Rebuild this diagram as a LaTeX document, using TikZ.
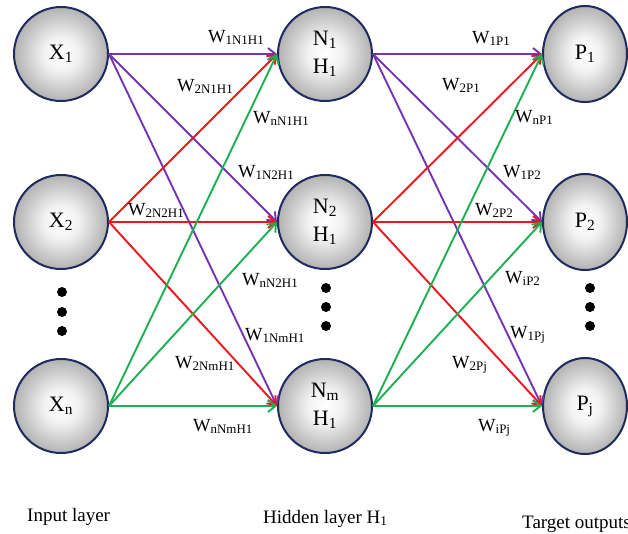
\documentclass[tikz,border=0pt]{standalone}
\usepackage{fontspec}
\setmainfont{Liberation Serif}
\usetikzlibrary{arrows.meta,shapes.geometric}

% soft grey ball: white centre fading to grey at the rim (25bp = rim)
\pgfdeclareradialshading{neuronball}{\pgfpointorigin}{%
  color(0bp)=(white); color(9bp)=(white!95!black);
  color(25bp)=(black!30); color(50bp)=(black!30)}

\definecolor{rimblue}{HTML}{1F2B5E}
\definecolor{wpurple}{HTML}{7434B4}
\definecolor{wred}{HTML}{F0141E}
\definecolor{wgreen}{HTML}{1DB052}

\newcommand\lowidx[1]{\textsubscript{#1}}

\begin{document}
\begin{tikzpicture}[x=1pt,y=-1pt,
  neuron/.style={circle, draw=rimblue, line width=2pt, shading=neuronball,
    minimum size=94pt, inner sep=0pt, align=center,
    font=\fontsize{22}{28}\selectfont},
  outneuron/.style={neuron, ellipse, minimum width=84pt, minimum height=96pt},
  wlab/.style={anchor=base west, inner sep=0pt, font=\fontsize{18.5}{20}\selectfont},
  layerlab/.style={anchor=base west, inner sep=0pt, font=\fontsize{19}{22}\selectfont},
  link/.style={line width=1.9pt, -{Straight Barb[length=7.5pt,width=12pt]}},
  ellipsisdot/.style={fill=black}]

\useasboundingbox (0,0) rectangle (628,533);

% input layer
\node[neuron] (X1) at (61,54)  {X\lowidx{1}};
\node[neuron] (X2) at (61,222) {X\lowidx{2}};
\node[neuron] (Xn) at (61,406) {X\lowidx{n}};

% hidden layer
\node[neuron] (N1) at (325,54)  {N\lowidx{1}\\H\lowidx{1}};
\node[neuron] (N2) at (325,222) {N\lowidx{2}\\H\lowidx{1}};
\node[neuron] (Nm) at (325,406) {N\lowidx{m}\\H\lowidx{1}};

% output layer
\node[outneuron] (P1) at (585,54)  {P\lowidx{1}};
\node[outneuron] (P2) at (585,222) {P\lowidx{2}};
\node[outneuron] (Pj) at (585,406) {P\lowidx{j}};

% vertical ellipses between the second and last node of each layer
\foreach \yy in {292,312,331} \fill[ellipsisdot] (62,\yy) circle (5);
\foreach \yy in {288,307,326} {
  \fill[ellipsisdot] (326,\yy) circle (5);
  \fill[ellipsisdot] (590,\yy) circle (5);
}

% input -> hidden weights
\foreach \t in {N1,N2,Nm} \draw[link, wpurple] (X1.east) -- (\t.west);
\foreach \t in {N1,N2,Nm} \draw[link, wred]    (X2.east) -- (\t.west);
\foreach \t in {N1,N2,Nm} \draw[link, wgreen]  (Xn.east) -- (\t.west);

% hidden -> output weights
\foreach \t in {P1,P2,Pj} \draw[link, wpurple] (N1.east) -- (\t.west);
\foreach \t in {P1,P2,Pj} \draw[link, wred]    (N2.east) -- (\t.west);
\foreach \t in {P1,P2,Pj} \draw[link, wgreen]  (Nm.east) -- (\t.west);

% weight labels, input side
\node[wlab] (w1) at (208,42)  {W\lowidx{1N1H1}};
\node[wlab] (w2) at (177,91)  {W\lowidx{2N1H1}};
\node[wlab] (w3) at (253,123) {W\lowidx{nN1H1}};
\node[wlab] (w4) at (238,177) {W\lowidx{1N2H1}};
\node[wlab] (w5) at (128,215) {W\lowidx{2N2H1}};
\node[wlab] (w6) at (242,285) {W\lowidx{nN2H1}};
\node[wlab] (w7) at (245,340) {W\lowidx{1NmH1}};
\node[wlab] (w8) at (175,368) {W\lowidx{2NmH1}};
\node[wlab] (w9) at (193,431) {W\lowidx{nNmH1}};

% weight labels, output side
\node[wlab] (v1) at (472,43)  {W\lowidx{1P1}};
\node[wlab] (v2) at (442,90)  {W\lowidx{2P1}};
\node[wlab] (v3) at (515,122) {W\lowidx{nP1}};
\node[wlab] (v4) at (503,177) {W\lowidx{1P2}};
\node[wlab] (v5) at (475,215) {W\lowidx{2P2}};
\node[wlab] (v6) at (505,283) {W\lowidx{iP2}};
\node[wlab] (v7) at (510,338) {W\lowidx{1Pj}};
\node[wlab] (v8) at (452,368) {W\lowidx{2Pj}};
\node[wlab] (v9) at (478,431) {W\lowidx{iPj}};

% layer captions
\node[layerlab] (cin)  at (27,521)  {Input layer};
\node[layerlab] (chid) at (263,523) {Hidden layer H\lowidx{1}};
\node[layerlab] (cout) at (522,528) {Target outputs};
\end{tikzpicture}
\end{document}
